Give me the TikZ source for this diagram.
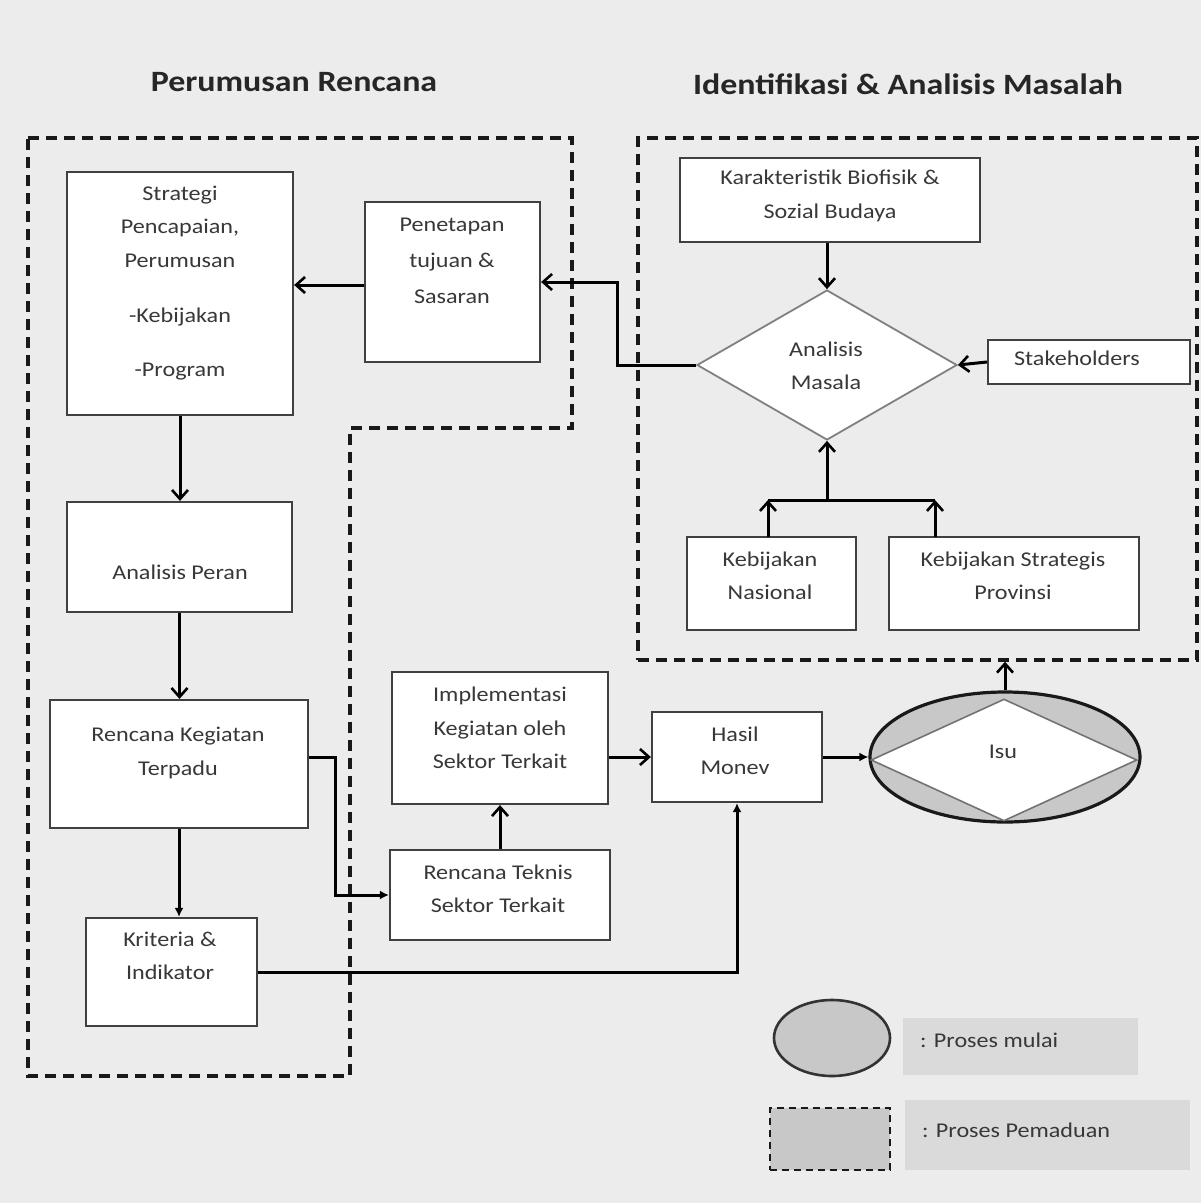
\documentclass[tikz,border=0pt]{standalone}
\usepackage{fontspec}
\setmainfont{Carlito}[FakeStretch=1.15]
\usetikzlibrary{arrows.meta,shapes.geometric}
\definecolor{bg}{HTML}{ECECEC}
\definecolor{lg}{HTML}{DADADA}
\definecolor{ell}{HTML}{C8C8C8}
\definecolor{ink}{HTML}{383838}
\definecolor{edge}{HTML}{404040}
\tikzset{
  box/.style={draw=edge, line width=2.2pt, fill=white, inner sep=0pt},
  txt/.style={align=center, text=ink, inner sep=0pt, font=\fontsize{21}{33.5}\selectfont},
  ttl/.style={text=black!85, inner sep=0pt, font=\fontsize{29.5}{32}\selectfont\bfseries},
  conn/.style={draw=black, line width=3pt},
  arr/.style={conn, -{Straight Barb[length=9pt,width=16pt,line width=2.6pt]}},
  arrs/.style={conn, -{Latex[length=9pt,width=9pt]}},
  region/.style={draw=black!90, line width=3.4pt, dash pattern=on 11pt off 7pt},
}
\begin{document}
\begin{tikzpicture}[x=1pt,y=-1pt]
\useasboundingbox (0,0) rectangle (1201,1203);
\fill[bg] (0,0) rectangle (1201,1203);

% titles
\node[ttl] (t1) at (294,82) {Perumusan Rencana};
\node[ttl] (t2) at (908,84) {Identifikasi \& Analisis Masalah};

% regions
\draw[region] (28,138) -- (572,138) -- (572,428) -- (350,428) -- (350,1076) -- (28,1076) -- cycle;
\node[region, minimum width=559pt, minimum height=522pt, inner sep=0pt] (rreg) at (917.5,399) {};

% boxes
\node[box, minimum width=226pt, minimum height=243pt] (strat) at (180,293.5) {};
\node[box, minimum width=175pt, minimum height=160pt] (pen) at (452.5,282) {};
\node[box, minimum width=225pt, minimum height=110pt] (peran) at (179.5,557) {};
\node[box, minimum width=258pt, minimum height=128pt] (rkt) at (179,764) {};
\node[box, minimum width=171pt, minimum height=108pt] (krit) at (171.5,972) {};
\node[box, minimum width=216pt, minimum height=132pt] (impl) at (500,738) {};
\node[box, minimum width=220pt, minimum height=90pt] (rtek) at (500,895) {};
\node[box, minimum width=170pt, minimum height=90pt] (hasil) at (737,757) {};
\node[box, minimum width=300pt, minimum height=84pt] (kar) at (830,200) {};
\node[box, minimum width=202pt, minimum height=44pt] (stake) at (1089,362) {};
\node[box, minimum width=169pt, minimum height=93pt] (knas) at (771.5,583.5) {};
\node[box, minimum width=250pt, minimum height=93pt] (kprov) at (1014,583.5) {};
\node[box, draw=black!50, line width=1.8pt, shape=diamond, minimum width=260pt, minimum height=150pt] (am) at (827,365) {};

% Isu
\node[draw=black!90, line width=3.2pt, fill=ell, ellipse, minimum width=270pt, minimum height=130pt, inner sep=0pt] (isu) at (1005,757) {};
\node[draw=black!55, line width=1.6pt, fill=white, diamond, minimum width=266pt, minimum height=122pt, inner sep=0pt] (isud) at (1004,760) {};

% texts
\node[txt] (strat-t) at (180,283) {Strategi\\Pencapaian,\\Perumusan\\[22pt]-Kebijakan\\[20pt]-Program};
\node[txt, font=\fontsize{21}{36}\selectfont] (pen-t) at (452,261) {Penetapan\\tujuan \&\\Sasaran};
\node[txt] (peran-t) at (180,572) {Analisis Peran};
\node[txt] (rkt-t) at (178,753) {Rencana Kegiatan\\Terpadu};
\node[txt] (krit-t) at (170,956) {Kriteria \&\\Indikator};
\node[txt] (impl-t) at (500,728) {Implementasi\\Kegiatan oleh\\Sektor Terkait};
\node[txt] (rtek-t) at (498,889) {Rencana Teknis\\Sektor Terkait};
\node[txt] (hasil-t) at (735,751) {Hasil\\Monev};
\node[txt] (kar-t) at (830,196) {Karakteristik Biofisik \&\\Sozial Budaya};
\node[txt] (am-t) at (826,366) {Analisis\\Masala};
\node[txt] (stake-t) at (1077,358) {Stakeholders};
\node[txt] (knas-t) at (770,576) {Kebijakan\\Nasional};
\node[txt] (kprov-t) at (1013,576) {Kebijakan Strategis\\Provinsi};
\node[txt] (isu-t) at (1003,752) {Isu};

% connectors
\draw[arr] (am.north |- kar.south) -- (am.north);
\draw[arr] (stake.west) -- (am.east);
\draw[arr] (am.west) -- (617,365) |- (pen.east);
\draw[arr] ([yshift=-3pt]pen.west) -- ([yshift=-3pt]pen.west -| strat.east);
\draw[arr] (strat.south) -- (strat.south |- peran.north);
\draw[arr] (peran.south) -- (peran.south |- rkt.north);
\draw[arrs] (rkt.south) -- (rkt.south |- krit.north);
\draw[arrs] ([yshift=7pt]rkt.east) -- (335,757) |- (rtek.west);
\draw[arr] (rtek.north) -- (impl.south);
\draw[arr] (impl.east |- hasil.west) -- (hasil.west);
\draw[arrs] (hasil.east) -- (isu.west);
\draw[arrs] (krit.east) -| (hasil.south);
\coordinate (jn) at (827,500);
\coordinate (kpt) at (935,537);
\coordinate (knt) at (768,537);
\draw[conn] (knt |- jn) -- (kpt |- jn);
\draw[arr] (knt) -- (knt |- jn);
\draw[arr] (kpt) -- (kpt |- jn);
\draw[arr] (jn) -- (am.south);
\draw[arr] (isu.north) -- (isu.north |- rreg.south);

% legend
\node[draw=black!80, line width=2.6pt, fill=ell, ellipse, minimum width=116pt, minimum height=76pt, inner sep=0pt] (lgell) at (832,1038) {};
\node[fill=lg, minimum width=235pt, minimum height=57pt, inner sep=0pt] (lgt1) at (1020.5,1046.5) {};
\node[txt, anchor=west] (lgt1-t) at (920,1040) {: Proses mulai};
\node[region, line width=2.8pt, dash pattern=on 7pt off 5pt, fill=ell, minimum width=120pt, minimum height=62pt, inner sep=0pt] (lgbox) at (830,1139) {};
\node[fill=lg, minimum width=285pt, minimum height=70pt, inner sep=0pt] (lgt2) at (1047.5,1135) {};
\node[txt, anchor=west] (lgt2-t) at (922,1130) {: Proses Pemaduan};
\end{tikzpicture}
\end{document}
